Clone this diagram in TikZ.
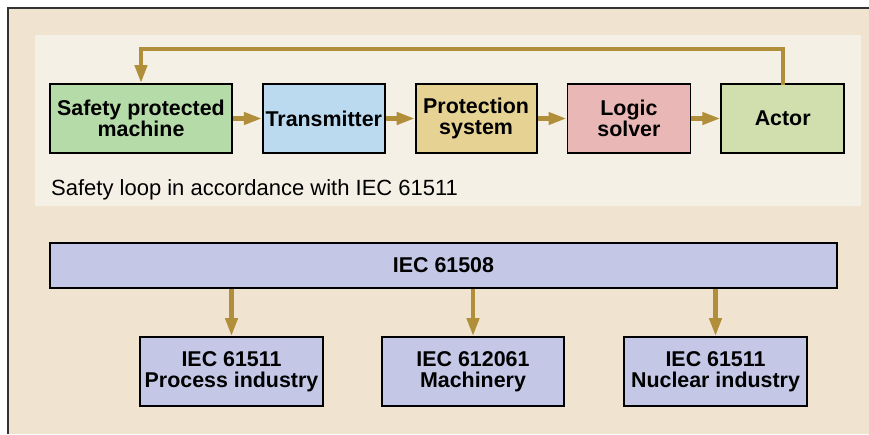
\documentclass[tikz,border=0pt]{standalone}
\usepackage{fontspec}
\setmainfont{Liberation Sans}
\usetikzlibrary{arrows.meta, positioning}
\definecolor{cframe}{HTML}{F0E4D0}
\definecolor{cpanel}{HTML}{F5F0E5}
\definecolor{cgreen}{HTML}{B5DBA9}
\definecolor{cblue}{HTML}{BBDAF0}
\definecolor{ctan}{HTML}{E6D293}
\definecolor{cpink}{HTML}{E9B8B6}
\definecolor{colive}{HTML}{D1DEAE}
\definecolor{clav}{HTML}{C4C8E6}
\definecolor{cgold}{HTML}{B18F3A}
\tikzset{
  every picture/.style={x=1pt, y=1pt},
  box/.style={draw=black, fill=#1, line width=1.8pt, align=center, inner sep=1pt,
    minimum height=69pt, font=\fontsize{21.4}{21}\selectfont\bfseries},
  box/.default=clav,
  arrow/.style={-{Triangle[length=18pt, width=12pt]}, draw=cgold, line width=4.2pt},
  caption/.style={font=\fontsize{22}{24}\selectfont, anchor=base west, inner sep=0pt},
}
\begin{document}
\begin{tikzpicture}
  \useasboundingbox (0,0) rectangle (869,-434);
  % background frame and the light panel of the safety loop
  \fill[cframe] (8,-8) rectangle (869,-434);
  \draw[black!80, line width=1.2pt] (8,-434) -- (8,-8) -- (869,-8);
  \fill[cpanel] (35,-35) rectangle (861,-206);
  % safety loop
  \node[box=cgreen, minimum width=182pt] (machine) at (141,-118.5) {Safety protected\\machine};
  \node[box=cblue, minimum width=122pt, right=29pt of machine] (trans) {Transmitter};
  \node[box=ctan, minimum width=121pt, right=29pt of trans] (prot) {Protection\\system};
  \node[box=cpink, minimum width=123pt, right=29pt of prot] (logic) {Logic\\solver};
  \node[box=colive, minimum width=123pt, right=29pt of logic] (actor) {Actor};
  \draw[arrow] (machine) -- (trans);
  \draw[arrow] (trans) -- (prot);
  \draw[arrow] (prot) -- (logic);
  \draw[arrow] (logic) -- (actor);
  \draw[arrow, line cap=rect] (actor.north) -- ++(0,34) -| (machine.north);
  \node[caption] (cap) at (51,-195) {Safety loop in accordance with IEC 61511};
  % standards
  \node[box, minimum width=787pt, minimum height=45pt] (iec) at (443.5,-265.5) {IEC 61508};
  \node[box, minimum width=183pt] (proc) at (231.5,-371.5) {IEC 61511\\Process industry};
  \node[box, minimum width=182pt] (mach) at (473,-371.5) {IEC 612061\\Machinery};
  \node[box, minimum width=183pt] (nucl) at (715.5,-371.5) {IEC 61511\\Nuclear industry};
  \foreach \n in {proc, mach, nucl}
    \draw[arrow] (\n.north |- iec.south) -- (\n.north);
\end{tikzpicture}
\end{document}
